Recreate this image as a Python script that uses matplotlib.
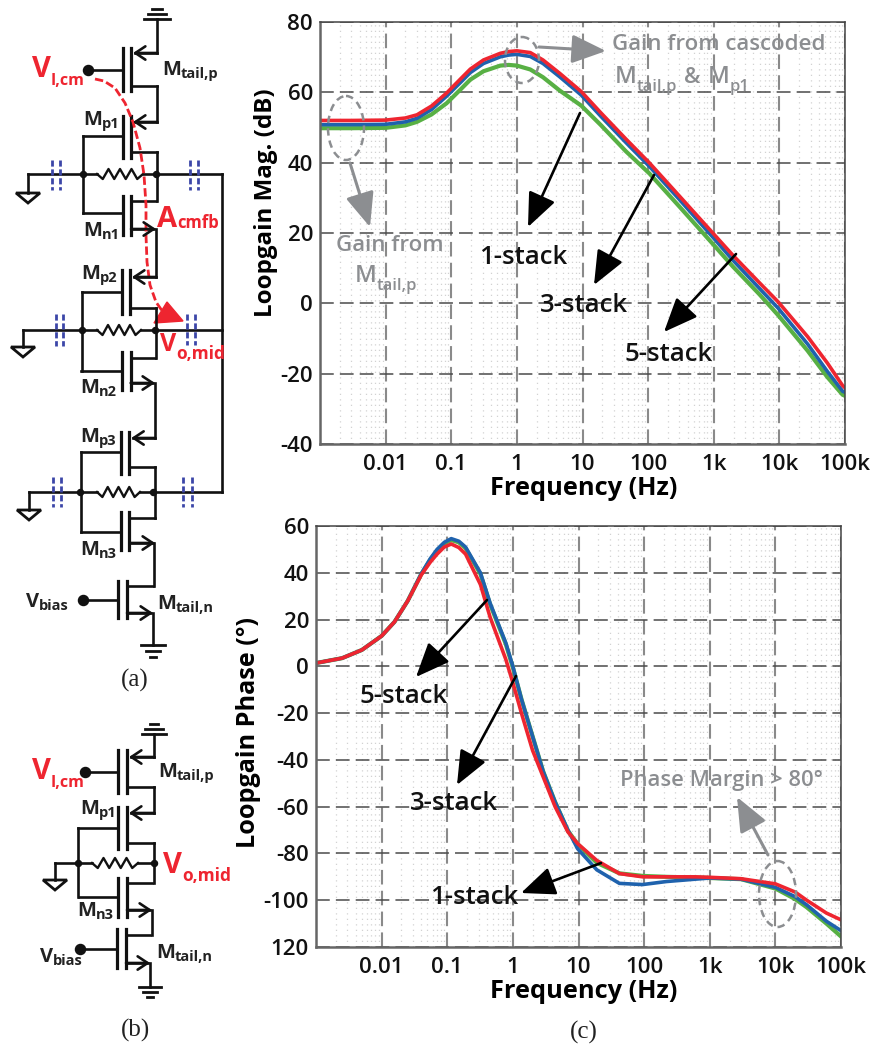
#!/usr/bin/env python
import numpy as np
import matplotlib
matplotlib.use('Agg')
import matplotlib.pyplot as plt
from matplotlib.patches import Ellipse, Polygon

plt.rcParams['font.family'] = ['Open Sans', 'DejaVu Sans']

W, H = 874, 1047
RED = '#ee2530'
BLUE = '#1f62ad'
GREEN = '#58b044'
GREY = '#8c8e91'
CAPBLUE = '#3c46a8'

# loop gain magnitude
mag_f = [1e-3, 3e-3, 0.01, 0.02, 0.03, 0.05, 0.085, 0.14, 0.195, 0.31, 0.56, 0.75, 1, 1.6, 2.5, 4.5, 9.6, 19, 46,
         105, 300, 1e3, 1.95e3, 5e3, 9.6e3, 2.7e4, 5.4e4, 9.2e4, 1e5]
mag_red = [52, 52, 52.1, 52.7, 53.6, 56.1, 59.8, 63.9, 66.6, 69.2, 71.1, 71.6, 71.8, 71.3, 69.2, 65.4, 60.2, 54.2,
           46.7, 39.9, 30.5, 19.7, 13.7, 5.8, 0.4, -9.5, -17, -23.4, -24]
mag_blue = [50.8, 50.8, 50.9, 51.6, 52.6, 55.1, 58.9, 62.9, 65.6, 68.2, 70.1, 70.6, 70.8, 70.2, 68.2, 64.4, 59.2, 53.2,
            45.7, 38.9, 29.5, 18.5, 12.3, 4.2, -1.4, -11.6, -19.4, -25, -25.3]
mag_green = [49.8, 49.8, 49.9, 50.6, 51.6, 53.7, 56.9, 60.9, 63.6, 66, 67.6, 67.8, 67.6, 66.5, 64.3, 60.5, 56.2, 50.7,
             43.2, 36.9, 27.5, 16.6, 10.5, 2.5, -3.4, -13.5, -21, -26, -26.3]

# loop gain phase
ph_f = [1e-3, 2.5e-3, 5e-3, 0.01, 0.0157, 0.025, 0.04, 0.055, 0.07, 0.09, 0.115, 0.15, 0.19, 0.32, 0.45, 0.78, 1,
        1.35, 2, 2.9, 4.4, 6.9, 9.7, 19, 42, 95, 220, 600, 1e3, 3e3, 1e4, 2e4, 3e4, 6e4, 1e5]
ph_red = [1.4, 3.5, 7, 13, 19, 28, 39, 44.5, 48, 51, 52.3, 50.8, 48, 35, 21, 3, -7, -20, -36, -47.3, -60,
          -70.8, -75.8, -83, -88.6, -90, -90, -90, -90.2, -90.8, -93, -96.5, -100, -105.5, -108.4]
ph_blue = [1.4, 3.5, 7, 13, 19, 28, 39.5, 46, 50, 53, 54.6, 53.5, 51, 40, 27, 10, 0, -14, -30, -45, -58,
           -70, -78, -87, -92.8, -93.3, -92, -91, -90.5, -91, -94.5, -98.5, -102, -109, -113]
ph_green = [1.4, 3.5, 7, 13, 19, 28, 39.3, 45.5, 49.5, 52.5, 54, 53, 50.5, 39.5, 26.5, 9.5, -0.5, -14, -30, -45, -58,
            -70.3, -76, -84, -88.5, -89.6, -90, -90.3, -90.5, -91, -95, -99.5, -103, -110, -115.5]

freq_ticks = [0.01, 0.1, 1, 10, 100, 1e3, 1e4, 1e5]
freq_labels = ['0.01', '0.1', '1', '10', '100', '1k', '10k', '100k']
mag_ticks = [-40, -20, 0, 20, 40, 60, 80]
mag_labels = ['-40', '-20', '0', '20', '40', '60', '80']
ph_ticks = [-120, -100, -80, -60, -40, -20, 0, 20, 40, 60]
ph_labels = ['120', '-100', '-80', '-60', '-40', '-20', '0', '20', '40', '60']

fig = plt.figure(figsize=(W / 100, H / 100), dpi=100)


def rect(l, t, r, b):
    return [l / W, 1 - b / H, (r - l) / W, (b - t) / H]


def setup(ax, yticks, ylabels, ylim, ylabel, ysize, ylab_y, xlab_x):
    ax.set_xscale('log')
    ax.set_xlim(1e-3, 1e5)
    ax.set_ylim(*ylim)
    ax.set_xticks(freq_ticks)
    ax.set_xticklabels(freq_labels)
    ax.set_yticks(yticks)
    ax.set_yticklabels(ylabels)
    ax.xaxis.set_minor_locator(matplotlib.ticker.LogLocator(10, subs=range(2, 10), numticks=20))
    ax.xaxis.set_minor_formatter(matplotlib.ticker.NullFormatter())
    ax.xaxis.grid(True, which='minor', color='#d2d2d2', lw=0.9, ls=(0, (1, 3.4)))
    ax.xaxis.grid(True, which='major', color='#8a8a8a', lw=1.5, ls=(0, (7, 3)))
    ax.yaxis.grid(True, which='major', color='#4a4a4a', lw=1.1, ls=(0, (9, 4)))
    ax.set_axisbelow(True)
    ax.tick_params(which='both', length=0, labelsize=16, colors='#111111')
    ax.tick_params(axis='x', pad=7)
    ax.tick_params(axis='y', pad=5)
    for lab in ax.get_xticklabels() + ax.get_yticklabels():
        lab.set_fontweight('semibold')
    for s in ['left', 'bottom']:
        ax.spines[s].set_color('#666666')
        ax.spines[s].set_linewidth(1.8)
    for s in ['top', 'right']:
        ax.spines[s].set_color('#444444')
        ax.spines[s].set_linewidth(1.1)
    ax.set_xlabel('Frequency (Hz)', fontsize=18.3, fontweight='bold', x=xlab_x, labelpad=1)
    ax.set_ylabel(ylabel, fontsize=ysize, fontweight='bold', y=ylab_y, labelpad=2)


ax1 = fig.add_axes(rect(320, 22, 845, 444))
setup(ax1, mag_ticks, mag_labels, (-40, 80), 'Loopgain Mag. (dB)', 17.4, 0.571, 0.503)
ax1.plot(mag_f, mag_green, color=GREEN, lw=3)
ax1.plot(mag_f, mag_blue, color=BLUE, lw=2.6)
ax1.plot(mag_f, mag_red, color=RED, lw=2.6)

ax2 = fig.add_axes(rect(316, 526, 841, 947))
setup(ax2, ph_ticks, ph_labels, (-120, 60), 'Loopgain Phase (°)', 18.2, 0.51, 0.51)
ax2.plot(ph_f, ph_green, color=GREEN, lw=3)
ax2.plot(ph_f, ph_blue, color=BLUE, lw=2.6)
ax2.plot(ph_f, ph_red, color=RED, lw=2.6)

# overlay in pixel coordinates for the schematics and callouts
ov = fig.add_axes([0, 0, 1, 1])
ov.set_xlim(0, W)
ov.set_ylim(H, 0)
ov.axis('off')
ov.patch.set_alpha(0)


def wire(*pts, lw=1.9):
    xs, ys = zip(*pts)
    ov.plot(xs, ys, color='#111111', lw=lw, solid_capstyle='projecting', solid_joinstyle='miter')


def dot(x, y, r=3):
    ov.plot([x], [y], 'o', color='#111111', ms=r * 1.45)


def arrow(p0, p1, color='k', lw=1.9, hl=1.0, hw=0.42, scale=21):
    ov.annotate('', xy=p1, xytext=p0,
                arrowprops=dict(arrowstyle='-|>,head_length=%g,head_width=%g' % (hl, hw), color=color, lw=lw,
                                mutation_scale=scale, shrinkA=0, shrinkB=0))


def small_arrow(p0, p1):
    ov.annotate('', xy=p1, xytext=p0,
                arrowprops=dict(arrowstyle='->,head_length=0.45,head_width=0.3', color='#111111', lw=1.9,
                                mutation_scale=16, shrinkA=0, shrinkB=0))


def mos(gx, cx, y0, y1, ygate, xgate, ytop, ybot, xout, src_top):
    # plates, gate lead, and the two channel leads; the source lead carries an arrow
    wire((gx, y0), (gx, y1), lw=2.3)
    wire((cx, y0), (cx, y1), lw=2.3)
    wire((xgate, ygate), (gx, ygate))
    if src_top:
        wire((xout, ytop), (cx + 4, ytop))
        small_arrow((xout, ytop), (cx + 2, ytop))
        wire((cx, ybot), (xout, ybot))
    else:
        wire((cx, ytop), (xout, ytop))
        wire((cx, ybot), (xout - 2, ybot))
        small_arrow((cx, ybot), (xout, ybot))


def resistor(x0, x1, y, amp=5):
    n = 8
    xs = [x0 + (x1 - x0) * i / n for i in range(n + 1)]
    ys = [y + (0 if i in (0, n) else (amp if i % 2 else -amp)) for i in range(n + 1)]
    ov.plot(xs, ys, color='#111111', lw=1.7)


def node_row(y, xg, xl, xr, xend, r0, r1):
    wire((xg, y), (r0, y))
    resistor(r0, r1, y)
    wire((r1, y), (xr, y))
    if xend:
        wire((xr, y), (xend, y))
    dot(xl, y)
    dot(xr, y)


def tri_gnd(x, y0, y1, hw=12):
    wire((x, y0), (x, y1))
    ov.add_patch(Polygon([(x - hw, y1), (x + hw, y1), (x, y1 + 10)], closed=True, fc='white', ec='#111111', lw=2))


def rail(x, y0, y1, bars):
    wire((x, y0), (x, y1))
    for yb, half in bars:
        wire((x - half, yb), (x + half, yb), lw=2)


def caps(x0, x1, y0, y1):
    for x in (x0, x1):
        ov.plot([x, x], [y0, y1], color=CAPBLUE, lw=2, ls=(0, (2.2, 1.0)))


def sub_label(x, y, main, sub, color='#222222', size=14.5, subsize=10.5, dy=3, weight='bold'):
    t = ov.text(x, y, main, color=color, fontsize=size, fontweight=weight, ha='left', va='baseline')
    bb = t.get_window_extent(fig.canvas.get_renderer())
    ov.text(bb.x1 * W / fig.bbox.width, y + dy, sub, color=color, fontsize=subsize, fontweight=weight,
            ha='left', va='baseline')


# schematic (a)
rail(156.5, 19, 53, [(9, 5), (14, 9), (19, 13)])
mos(122.7, 131, 48, 91, 69.5, 88, 53, 86, 156.5, True)
dot(88, 69.5, 5)
wire((156.5, 86), (156.5, 122))
mos(123, 131, 116, 158, 136, 83, 122, 152, 156.5, True)
wire((83, 136), (83, 213))
wire((156.5, 152), (156.5, 201))
node_row(174, 28, 83, 156, 222, 97, 143)
tri_gnd(28, 174, 193)
caps(51.7, 60, 160, 190)
caps(190, 198, 160, 190)
mos(123, 131, 196, 235, 213, 83, 201, 229, 156, False)
wire((156, 229), (156, 277))
mos(122, 130, 270, 314, 292, 82, 277, 308, 156, True)
wire((82, 292), (82, 371))
wire((156, 308), (156, 358))
node_row(330, 23, 82, 155, 222, 97, 141)
tri_gnd(23, 330, 347)
caps(56, 63, 314, 346)
caps(187, 195, 314, 345)
mos(122, 130.7, 352, 390, 371, 81, 358, 383, 155, False)
wire((155, 383), (155, 438))
mos(120.7, 129.3, 432, 474, 452, 81, 438, 467, 155, True)
wire((81, 452), (81, 532))
wire((155, 467), (155, 518))
node_row(492, 29, 80, 153, 222, 97, 140)
tri_gnd(29, 492, 510)
caps(53, 61, 477, 507)
caps(183, 192, 477, 507)
mos(120.7, 129.3, 512, 550, 532, 81, 518, 543, 155, False)
wire((154, 543), (154, 586))
mos(118, 127, 581, 618, 600, 83, 586, 613, 153, False)
dot(83, 600, 5)
rail(153, 613, 645, [(645, 12), (651, 7), (657, 3)])
wire((222, 174), (222, 492))

# red feedback path
path_x = [95, 104, 115, 125, 133, 140, 144, 146, 146, 147, 150, 156, 165]
path_y = [79, 81, 88, 103, 122, 148, 175, 205, 235, 262, 285, 302, 315]
ov.plot(path_x, path_y, color=RED, lw=2.0, ls=(0, (3, 1.2)))
ov.add_patch(Polygon([(154, 323), (167, 302), (183, 321)], closed=True, fc=RED, ec=RED))

sub_label(32, 77, 'V', 'I,cm', RED, 21, 11.5, 8)
sub_label(162, 75, 'M', 'tail,p')
sub_label(83, 125, 'M', 'p1')
sub_label(83, 236, 'M', 'n1')
sub_label(157, 227, 'A', 'cmfb', RED, 21, 12, 1)
sub_label(81, 279, 'M', 'p2')
sub_label(160, 351, 'V', 'o,mid', RED, 18, 12.5, 8)
sub_label(80, 393, 'M', 'n2')
sub_label(80, 442, 'M', 'p3')
sub_label(80, 555, 'M', 'n3')
sub_label(26, 607, 'V', 'bias')
sub_label(157, 609, 'M', 'tail,n')
ov.text(135, 680, '(a)', family='Liberation Serif', fontsize=18, ha='center', va='center', color='#222222')

# schematic (b)
rail(154, 734, 757, [(724, 4), (729, 9), (734, 12)])
mos(118, 127, 750, 793, 772, 85, 757, 787, 154, True)
dot(85, 772, 5)
wire((154, 787), (154, 813))
mos(118, 127, 807, 849, 828, 78, 813, 843, 154, True)
wire((78, 828), (78, 897))
wire((154, 843), (154, 883))
node_row(863, 55, 78, 154, None, 92, 138)
tri_gnd(55, 863, 880)
mos(118, 127, 878, 917, 897, 79, 883, 910, 152, False)
wire((152, 910), (152, 935))
mos(117, 126, 929, 968, 949, 80, 935, 963, 150, False)
dot(80, 949, 5)
rail(150, 963, 987, [(987, 11), (992, 7), (997, 3)])

sub_label(32, 779, 'V', 'I,cm', RED, 21, 11.5, 8)
sub_label(158, 777, 'M', 'tail,p')
sub_label(80, 814, 'M', 'p1')
sub_label(163, 873, 'V', 'o,mid', RED, 21, 12.5, 8)
sub_label(77, 916, 'M', 'n3')
sub_label(40, 962, 'V', 'bias')
sub_label(156, 958, 'M', 'tail,n')
ov.text(135, 1030, '(b)', family='Liberation Serif', fontsize=18, ha='center', va='center', color='#222222')
ov.text(584, 1032, '(c)', family='Liberation Serif', fontsize=18, ha='center', va='center', color='#222222')

# callouts on the two plots
for xy, w, h in [((346, 128), 36, 64), ((522, 60), 34, 46), ((777.5, 894), 37, 66)]:
    ov.add_patch(Ellipse(xy, w, h, fill=False, ec=GREY, lw=1.8, ls=(0, (3, 2))))
arrow((539, 47), (606, 51), GREY, 2.2)
arrow((350, 163), (370, 227), GREY, 2.2)
arrow((768, 855), (737, 797), GREY, 2.2)
ov.text(612, 50, 'Gain from cascoded', color=GREY, fontsize=16, fontweight='semibold', va='baseline')
sub_label(615, 83, 'M', 'tail,p', GREY, 17, 12, 8, 'semibold')
ov.text(684, 83, '&', color=GREY, fontsize=16, fontweight='semibold', va='baseline')
sub_label(708, 83, 'M', 'p1', GREY, 17, 12, 8, 'semibold')
ov.text(336, 251, 'Gain from', color=GREY, fontsize=16, fontweight='semibold', va='baseline')
sub_label(355, 282, 'M', 'tail,p', GREY, 17, 12, 8, 'semibold')

stack_labels = [(523, 264, '1-stack'), (584, 312, '3-stack'), (669, 361, '5-stack'),
                (404, 703, '5-stack'), (454, 810, '3-stack'), (474, 904, '1-stack')]
for x, y, s in stack_labels:
    ov.text(x, y, s, fontsize=18.5, fontweight='semibold', ha='center', va='baseline', color='#111111')

for p0, p1 in [((580, 113), (528, 227)), ((654, 175), (594, 285)), ((736, 254), (664, 332)),
               ((487, 600), (416, 677)), ((516, 676), (457, 785)), ((601, 863), (521, 893))]:
    arrow(p0, p1)

ov.text(620, 786, 'Phase Margin > 80°', color=GREY, fontsize=15.8, fontweight='semibold', va='baseline')

fig.savefig('out.png', dpi=100)
